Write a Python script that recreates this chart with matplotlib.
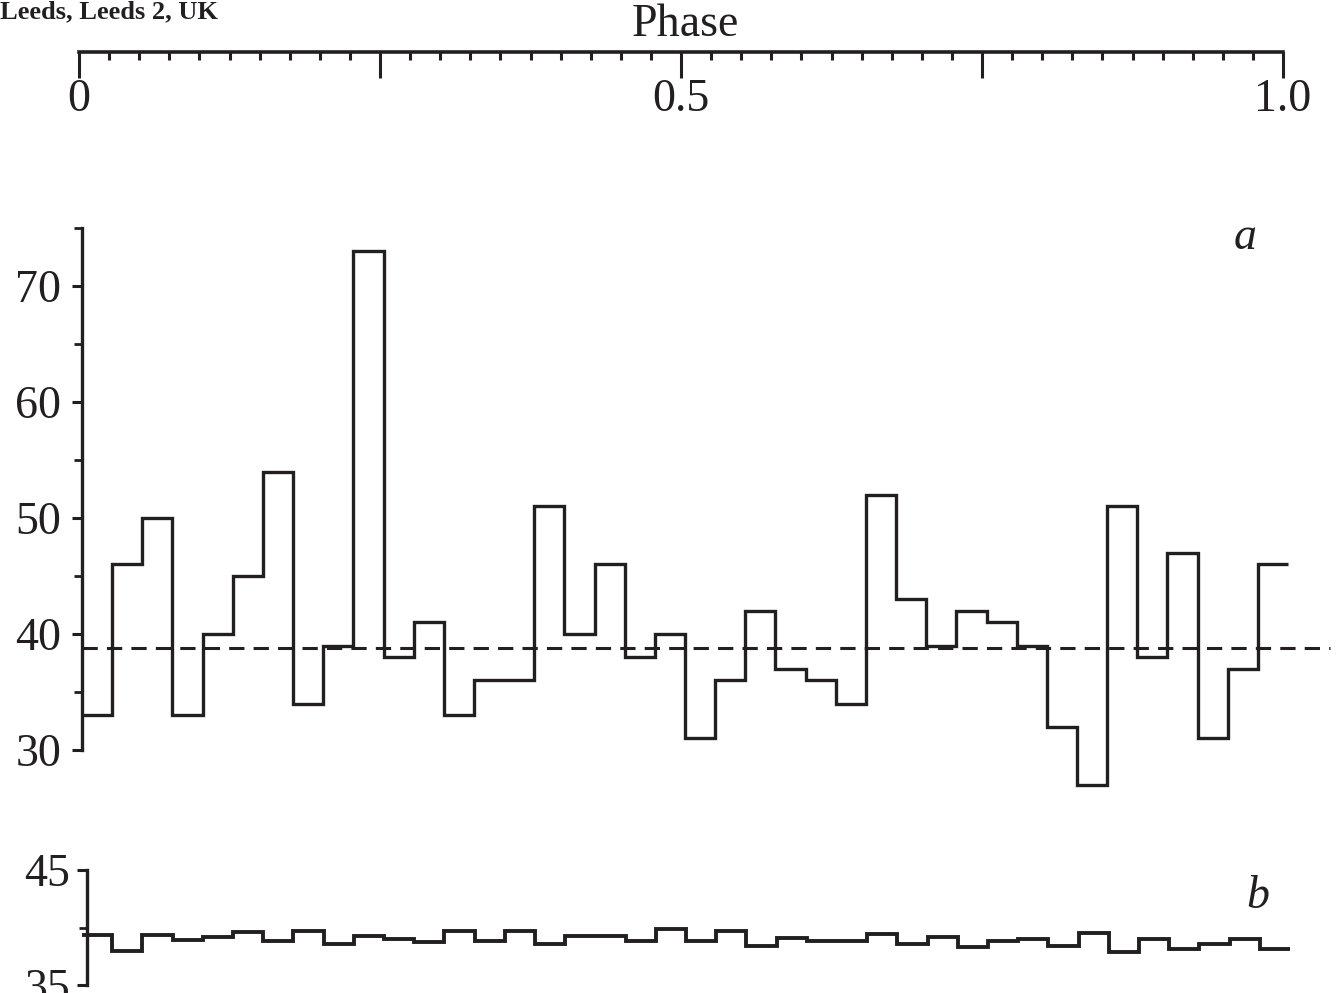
import numpy as np
import matplotlib
matplotlib.use("Agg")
import matplotlib.pyplot as plt
from matplotlib.ticker import MultipleLocator, FixedLocator

plt.rcParams['font.family'] = ['Liberation Serif', 'DejaVu Serif']

# Phase bins (40 bins over one cycle)
n_bins = 40
phase_edges = np.linspace(0.0, 1.0, n_bins + 1)

# Panel a: counts per phase bin
counts_a = [33, 46, 50, 33, 40, 45, 54, 34, 39, 73,
            38, 41, 33, 36, 36, 51, 40, 46, 38, 40,
            31, 36, 42, 37, 36, 34, 52, 43, 39, 42,
            41, 39, 32, 27, 51, 38, 47, 31, 37, 46]
mean_level_a = 38.8

# Panel b: counts per phase bin
counts_b = [39.35, 38.0, 39.35, 38.9, 39.2, 39.6, 38.8, 39.7, 38.6, 39.3,
            39.0, 38.7, 39.7, 38.8, 39.7, 38.6, 39.25, 39.3, 38.85, 39.85,
            38.8, 39.7, 38.4, 39.05, 38.85, 38.8, 39.45, 38.6, 39.2, 38.3,
            38.8, 39.0, 38.4, 39.5, 37.9, 39.0, 38.1, 38.6, 39.0, 38.1]

W, H = 1336, 993
fig = plt.figure(figsize=(W / 100, H / 100), dpi=100)


def frac(left_px, top_px, right_px, bottom_px):
    return [left_px / W, 1 - bottom_px / H, (right_px - left_px) / W, (bottom_px - top_px) / H]


ink = '#231f20'
lw = 2.4
fs = 33

# Top phase scale
ax_top = fig.add_axes(frac(79, 51, 1283, 52))
ax_top.set_xlim(0, 1)
ax_top.set_ylim(0, 1)
for s in ('top', 'left', 'right'):
    ax_top.spines[s].set_visible(False)
ax_top.spines['bottom'].set_linewidth(2.6)
ax_top.spines['bottom'].set_color(ink)
ax_top.set_yticks([])
ax_top.xaxis.set_major_locator(FixedLocator([0, 0.25, 0.5, 0.75, 1.0]))
ax_top.xaxis.set_minor_locator(MultipleLocator(0.025))
ax_top.set_xticklabels(['0', '', '0.5', '', '1.0'])
ax_top.tick_params(axis='x', which='major', direction='out', length=19, width=2.2,
                   color=ink, labelsize=fs, labelcolor=ink, pad=0)
ax_top.tick_params(axis='x', which='minor', direction='out', length=6, width=2.2, color=ink)
ax_top.patch.set_visible(False)
fig.text(685 / W, 1 - 25 / H, 'Phase', ha='center', va='center', fontsize=fs, color=ink)

fig.text(0.0, 1 - 12 / H, 'Leeds, Leeds 2, UK', ha='left', va='center',
         fontsize=19, color=ink, fontweight='bold')

# Panel a
ax_a = fig.add_axes(frac(82, 228, 1288, 750))
ax_a.stairs(counts_a, phase_edges, baseline=None, color=ink, linewidth=lw, clip_on=False)
ax_a.plot([0, 1.035], [mean_level_a, mean_level_a], color=ink, linewidth=2.2,
          linestyle=(0, (5, 3)), clip_on=False)
ax_a.set_xlim(0, 1)
ax_a.set_ylim(30, 75)
for s in ('top', 'right', 'bottom'):
    ax_a.spines[s].set_visible(False)
ax_a.spines['left'].set_linewidth(2.4)
ax_a.spines['left'].set_color(ink)
ax_a.set_xticks([])
ax_a.yaxis.set_major_locator(FixedLocator([30, 40, 50, 60, 70]))
ax_a.yaxis.set_minor_locator(FixedLocator([35, 45, 55, 65, 75]))
ax_a.tick_params(axis='y', which='major', direction='out', length=7, width=2.2,
                 color=ink, labelsize=fs, labelcolor=ink, pad=8)
ax_a.tick_params(axis='y', which='minor', direction='out', length=6, width=2.0, color=ink)
ax_a.patch.set_visible(False)
ax_a.text(1245 / W, 1 - 238 / H, 'a', transform=fig.transFigure, ha='center', va='center',
          fontsize=fs, style='italic', color=ink)

# Panel b
ax_b = fig.add_axes(frac(82, 870, 1290, 985))
ax_b.stairs(counts_b, phase_edges, baseline=None, color=ink, linewidth=lw + 0.4)
ax_b.set_xlim(0, 1)
ax_b.set_ylim(35, 45)
for s in ('top', 'right', 'bottom'):
    ax_b.spines[s].set_visible(False)
ax_b.spines['left'].set_position(('axes', 0.004))
ax_b.spines['left'].set_linewidth(2.4)
ax_b.spines['left'].set_color(ink)
ax_b.set_xticks([])
ax_b.yaxis.set_major_locator(FixedLocator([35, 45]))
ax_b.yaxis.set_minor_locator(FixedLocator([40]))
ax_b.tick_params(axis='y', which='major', direction='out', length=7, width=2.2,
                 color=ink, labelsize=fs, labelcolor=ink, pad=5)
ax_b.tick_params(axis='y', which='minor', direction='out', length=6, width=2.0, color=ink)
ax_b.patch.set_visible(False)
ax_b.text(1258 / W, 1 - 897 / H, 'b', transform=fig.transFigure, ha='center', va='center',
          fontsize=fs, style='italic', color=ink)

fig.savefig('out.png', dpi=100, facecolor='white')
